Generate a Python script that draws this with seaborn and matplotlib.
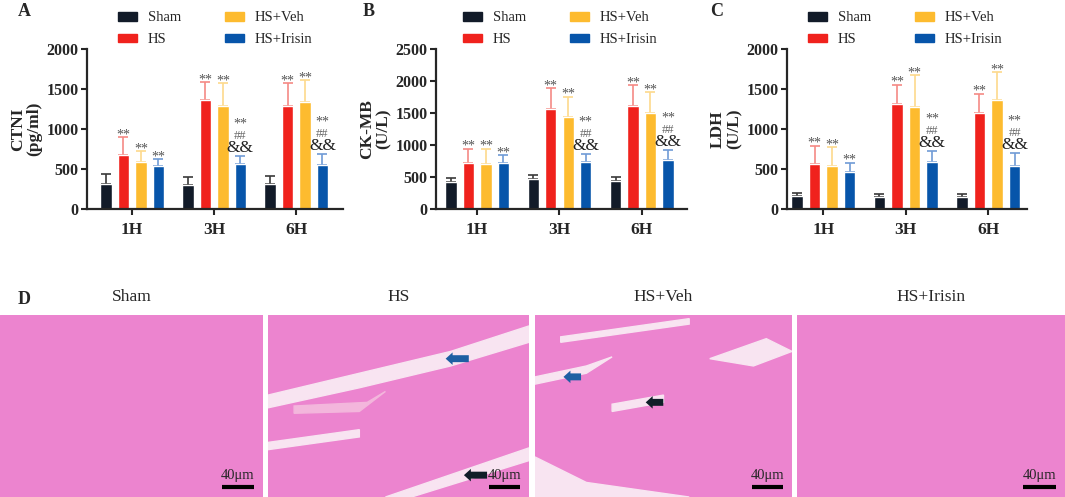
import numpy as np
import pandas as pd
import seaborn as sns
import matplotlib.pyplot as plt
from matplotlib.patches import Patch, Rectangle, Polygon

# ---- data ----
times = ["1H", "3H", "6H"]
groups = ["Sham", "HS", "HS+Veh", "HS+Irisin"]

ctni_sham = [308, 301, 312]
ctni_hs = [678, 1358, 1283]
ctni_veh = [586, 1288, 1338]
ctni_iri = [540, 567, 554]
ctni_sham_sd = [127, 100, 105]
ctni_hs_sd = [220, 225, 288]
ctni_veh_sd = [134, 287, 275]
ctni_iri_sd = [85, 96, 134]

ckmb_sham = [421, 468, 432]
ckmb_hs = [711, 1563, 1609]
ckmb_veh = [700, 1432, 1500]
ckmb_iri = [711, 729, 760]
ckmb_sham_sd = [63, 64, 63]
ckmb_hs_sd = [231, 322, 328]
ckmb_veh_sd = [242, 323, 323]
ckmb_iri_sd = [131, 130, 162]

ldh_sham = [167, 154, 154]
ldh_hs = [563, 1308, 1200]
ldh_veh = [542, 1275, 1363]
ldh_iri = [467, 588, 542]
ldh_sham_sd = [37, 34, 34]
ldh_hs_sd = [229, 246, 242]
ldh_veh_sd = [229, 396, 345]
ldh_iri_sd = [112, 141, 158]

# significance marks per group (per time point)
marks_hs = ["**", "**", "**"]
marks_veh = ["**", "**", "**"]
marks_iri = ["**", "**\n##\n&&", "**\n##\n&&"]

colors = ["#121b29", "#f0221d", "#fdbb2f", "#0755aa"]
err_colors = ["#3a3a3a", "#f58a85", "#fdd98c", "#6f9bd6"]
pink = "#ec84cf"
tear = "#f8e4f1"

sns.set_style("ticks")
plt.rcParams["font.family"] = ["Liberation Serif", "DejaVu Serif"]

W, H = 1065, 497
fig = plt.figure(figsize=(W / 100, H / 100), dpi=100)


def px_axes(left, top, width, height):
    return fig.add_axes([left / W, 1 - (top + height) / H, width / W, height / H])


def make_df(sham, hs, veh, iri):
    rows = []
    for g, vals in zip(groups, [sham, hs, veh, iri]):
        for t, v in zip(times, vals):
            rows.append({"time": t, "group": g, "value": v})
    return pd.DataFrame(rows)


# text style for each kind of significance mark: (label, size, colour, step)
mark_style = {
    "**": ("**", 10, "#555555", 6.5),
    "##": ("##", 9, "#666666", 8),
    "&&": ("&&", 12.5, "#222222", 10),
}


def bar_panel(ax, df, sds, ymax, ystep, ylabel, xlim, leg_x):
    sns.barplot(data=df, x="time", y="value", hue="group", hue_order=groups,
                palette=colors, width=0.85, gap=0.35, saturation=1,
                legend=False, ax=ax, errorbar=None)
    marks = [None, marks_hs, marks_veh, marks_iri]
    bar_conts = list(ax.containers)
    for i, cont in enumerate(bar_conts):
        xs = np.array([b.get_x() + b.get_width() / 2 for b in cont])
        ys = np.array([b.get_height() for b in cont])
        sd = np.array(sds[i])
        ax.errorbar(xs, ys, yerr=[np.zeros_like(sd), sd], fmt="none",
                    ecolor=err_colors[i], elinewidth=1.2, capsize=3.5,
                    capthick=1.2, zorder=1)
        for b in cont:
            b.set_zorder(2)
        if marks[i] is None:
            continue
        for x, y, s, m in zip(xs, ys, sd, marks[i]):
            keys = list(reversed(m.split("\n")))
            off = -3 if keys[0] == "**" else 0
            for key in keys:
                txt, fs, col, step = mark_style[key]
                ax.annotate(txt, (x, y + s), xytext=(0, off),
                            textcoords="offset points", ha="center",
                            va="bottom", fontsize=fs, color=col)
                off += step
    ax.set_ylim(0, ymax)
    ax.set_yticks(np.arange(0, ymax + 1, ystep))
    ax.set_xlim(*xlim)
    ax.set_xlabel("")
    ax.set_ylabel(ylabel, fontsize=12.5, fontweight="bold", linespacing=1.05,
                  labelpad=3)
    for lab in ax.get_yticklabels():
        lab.set_fontweight("bold")
        lab.set_fontsize(11.5)
    for lab in ax.get_xticklabels():
        lab.set_fontweight("bold")
        lab.set_fontsize(12.5)
    ax.tick_params(width=1.5, length=4, pad=2)
    ax.tick_params(axis="x", pad=5)
    for sp in ["left", "bottom"]:
        ax.spines[sp].set_linewidth(1.6)
    sns.despine(ax=ax)
    handles = [Patch(facecolor=c, edgecolor=c) for c in colors]
    ax.legend(handles, groups, ncol=2, loc="upper left",
              bbox_to_anchor=(leg_x, 1.235), frameon=False, fontsize=10.5,
              borderpad=0, borderaxespad=0, handlelength=1.3,
              handleheight=0.55, handletextpad=0.75, columnspacing=3.0,
              labelspacing=0.6)


axA = px_axes(87, 49, 256, 160)
bar_panel(axA, make_df(ctni_sham, ctni_hs, ctni_veh, ctni_iri),
          [ctni_sham_sd, ctni_hs_sd, ctni_veh_sd, ctni_iri_sd],
          2000, 500, "CTNI\n(pg/ml)", (-0.55, 2.57), 0.12)

axB = px_axes(436, 49, 251, 160)
bar_panel(axB, make_df(ckmb_sham, ckmb_hs, ckmb_veh, ckmb_iri),
          [ckmb_sham_sd, ckmb_hs_sd, ckmb_veh_sd, ckmb_iri_sd],
          2500, 500, "CK-MB\n(U/L)", (-0.50, 2.55), 0.108)

axC = px_axes(787, 49, 240, 160)
bar_panel(axC, make_df(ldh_sham, ldh_hs, ldh_veh, ldh_iri),
          [ldh_sham_sd, ldh_hs_sd, ldh_veh_sd, ldh_iri_sd],
          2000, 500, "LDH\n(U/L)", (-0.44, 2.47), 0.088)

for lbl, x in [("A", 18), ("B", 363), ("C", 710), ("D", 18)]:
    y = 12 if lbl != "D" else 300
    fig.text(x / W, 1 - y / H, lbl, fontsize=13, fontweight="bold",
             va="center", ha="left")

# ---- panel D: H&E sections (schematic) ----
img_panels = [(0, 263), (268, 529), (535, 792), (797, 1065)]
img_top = 315
arrow_style = "simple,head_width=0.9,head_length=0.5,tail_width=0.5"
for (x0, x1), name in zip(img_panels, groups):
    ax = px_axes(x0, img_top, x1 - x0, H - img_top)
    ax.set_xlim(0, 1)
    ax.set_ylim(0, 1)
    ax.axis("off")
    ax.add_patch(Rectangle((0, 0), 1, 1, color=pink, zorder=0))
    fig.text((x0 + x1) / 2 / W, 1 - 297 / H, name, fontsize=12.5,
             ha="center", va="center")
    # scale bar
    ax.plot([0.845, 0.965], [0.055, 0.055], color="black", lw=3,
            solid_capstyle="butt")
    ax.text(0.905, 0.085, "40μm", ha="center", va="bottom", fontsize=10.5)
    if name == "HS":
        ax.add_patch(Polygon([(0, 0.56), (0.35, 0.68), (0.7, 0.8), (1, 0.94),
                              (1, 0.85), (0.7, 0.72), (0.35, 0.6), (0, 0.49)],
                             color=tear, zorder=1))
        ax.add_patch(Polygon([(0.45, 0.0), (1, 0.27), (1, 0.2), (0.55, 0.0)],
                             color=tear, zorder=1))
        ax.add_patch(Polygon([(0, 0.3), (0.35, 0.37), (0.35, 0.33), (0, 0.26)],
                             color=tear, zorder=1))
        ax.add_patch(Polygon([(0.1, 0.5), (0.38, 0.52), (0.45, 0.58),
                              (0.35, 0.47), (0.1, 0.46)], color="#f3b6dc",
                             zorder=1))
        ax.annotate("", xy=(0.67, 0.76), xytext=(0.78, 0.76),
                    arrowprops=dict(arrowstyle=arrow_style,
                                    color="#1d5fa3", lw=0))
        ax.annotate("", xy=(0.74, 0.12), xytext=(0.85, 0.12),
                    arrowprops=dict(arrowstyle=arrow_style,
                                    color="#0f1e28", lw=0))
    if name == "HS+Veh":
        ax.add_patch(Polygon([(0.68, 0.76), (0.9, 0.87), (1, 0.8),
                              (0.85, 0.72)], color=tear, zorder=1))
        ax.add_patch(Polygon([(0, 0.0), (0, 0.22), (0.2, 0.08), (0.6, 0.0)],
                             color=tear, zorder=1))
        ax.add_patch(Polygon([(0, 0.66), (0.2, 0.72), (0.3, 0.77),
                              (0.2, 0.68), (0, 0.62)], color=tear, zorder=1))
        ax.add_patch(Polygon([(0.3, 0.51), (0.5, 0.56), (0.5, 0.52),
                              (0.3, 0.47)], color=tear, zorder=1))
        ax.add_patch(Polygon([(0.1, 0.88), (0.6, 0.98), (0.6, 0.95),
                              (0.1, 0.85)], color=tear, zorder=1))
        ax.annotate("", xy=(0.1, 0.66), xytext=(0.19, 0.66),
                    arrowprops=dict(arrowstyle=arrow_style,
                                    color="#1d5fa3", lw=0))
        ax.annotate("", xy=(0.42, 0.52), xytext=(0.51, 0.52),
                    arrowprops=dict(arrowstyle=arrow_style,
                                    color="#0f1e28", lw=0))

fig.savefig("out.png", dpi=100)
